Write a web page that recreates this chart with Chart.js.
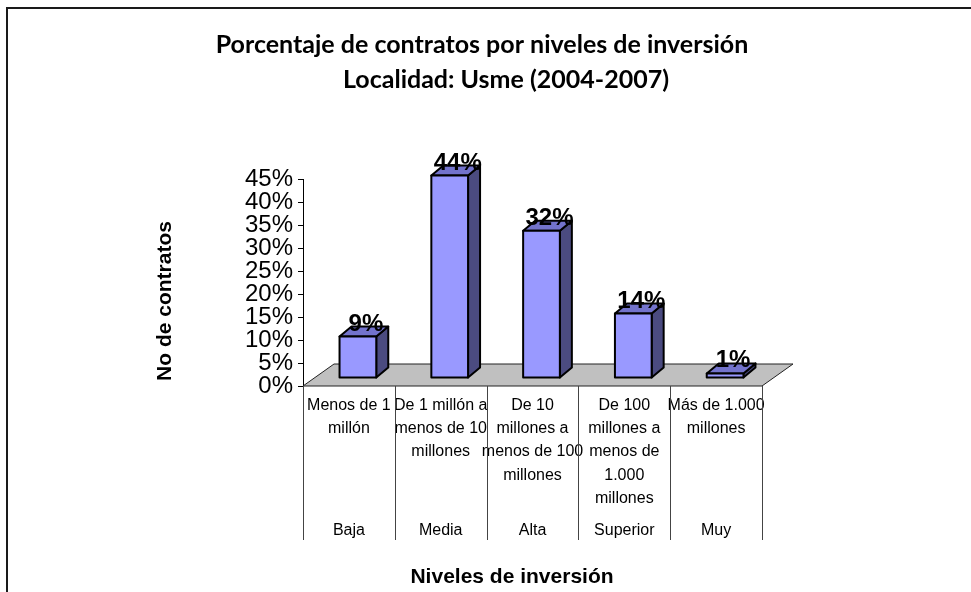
<!DOCTYPE html>
<html>
<head>
<meta charset="utf-8">
<script src="https://cdn.jsdelivr.net/npm/chart.js@4"></script>
<style>
  body { margin: 0; background: #fff; }
  #caja { width: 971px; height: 592px; }
</style>
</head>
<body>
<div id="caja"><canvas id="grafico"></canvas></div>
<script>
// datos
const descripciones = [
    ['Menos de 1', 'millón'],
    ['De 1 millón a', 'menos de 10', 'millones'],
    ['De 10', 'millones a', 'menos de 100', 'millones'],
    ['De 100', 'millones a', 'menos de', '1.000', 'millones'],
    ['Más de 1.000', 'millones']
];
const niveles = ['Baja', 'Media', 'Alta', 'Superior', 'Muy'];
const porcentajes = [9, 44, 32, 14, 1];
const ticksY = [0, 5, 10, 15, 20, 25, 30, 35, 40, 45];
const titulo = ['Porcentaje de contratos por niveles de inversión', 'Localidad: Usme (2004-2007)'];
const tituloY = 'No de contratos';
const tituloX = 'Niveles de inversión';

const ARIAL = '"Liberation Sans", Arial, sans-serif';

// profundidad del piso y de las barras (efecto 3D de excel)
const PISO_DX = 31, PISO_DY = -22;
const BARRA_SX = 9, BARRA_SY = -8;
const BARRA_DX = 12, BARRA_DY = -10;

const piso3d = {
    id: 'piso3d',
    beforeDatasetsDraw(chart) {
        const {ctx, chartArea: a} = chart;
        ctx.save();
        ctx.beginPath();
        ctx.moveTo(a.left, a.bottom);
        ctx.lineTo(a.right, a.bottom);
        ctx.lineTo(a.right + PISO_DX, a.bottom + PISO_DY);
        ctx.lineTo(a.left + PISO_DX, a.bottom + PISO_DY);
        ctx.closePath();
        ctx.fillStyle = '#c0c0c0';
        ctx.fill();
        ctx.strokeStyle = '#222';
        ctx.lineWidth = 1;
        ctx.stroke();
        ctx.restore();
    }
};

const barras3d = {
    id: 'barras3d',
    afterDatasetsDraw(chart) {
        const ctx = chart.ctx;
        const meta = chart.getDatasetMeta(0);
        ctx.save();
        ctx.lineWidth = 2;
        ctx.strokeStyle = '#000';
        ctx.lineJoin = 'round';
        meta.data.forEach((el, i) => {
            const l = el.x - el.width / 2 + BARRA_SX;
            const r = el.x + el.width / 2 + BARRA_SX;
            const t = el.y + BARRA_SY;
            const b = el.base + BARRA_SY;
            // lado
            ctx.beginPath();
            ctx.moveTo(r, b);
            ctx.lineTo(r, t);
            ctx.lineTo(r + BARRA_DX, t + BARRA_DY);
            ctx.lineTo(r + BARRA_DX, b + BARRA_DY);
            ctx.closePath();
            ctx.fillStyle = '#4b4b80';
            ctx.fill();
            ctx.stroke();
            // tapa
            ctx.beginPath();
            ctx.moveTo(l, t);
            ctx.lineTo(r, t);
            ctx.lineTo(r + BARRA_DX, t + BARRA_DY);
            ctx.lineTo(l + BARRA_DX, t + BARRA_DY);
            ctx.closePath();
            ctx.fillStyle = '#7373cc';
            ctx.fill();
            ctx.stroke();
            // frente
            ctx.fillStyle = '#9999ff';
            ctx.fillRect(l, t, r - l, b - t);
            ctx.strokeRect(l, t, r - l, b - t);
        });
        // etiquetas de valor
        ctx.fillStyle = '#000';
        ctx.font = 'bold 24px ' + ARIAL;
        ctx.textAlign = 'center';
        ctx.textBaseline = 'alphabetic';
        meta.data.forEach((el, i) => {
            ctx.fillText(porcentajes[i] + '%', el.x + BARRA_SX + BARRA_DX / 2 + 2, el.y + BARRA_SY - 6);
        });
        ctx.restore();
    }
};

const adornos = {
    id: 'adornos',
    afterDraw(chart) {
        const {ctx, chartArea: a} = chart;
        const xs = chart.scales.x, x2 = chart.scales.x2;
        ctx.save();
        // lineas de la tabla de categorias
        const n = descripciones.length;
        const w = (xs.right - xs.left) / n;
        ctx.strokeStyle = '#444';
        ctx.lineWidth = 1;
        for (let i = 0; i <= n; i++) {
            const x = Math.round(xs.left + i * w) + 0.5;
            ctx.beginPath();
            ctx.moveTo(x, a.bottom);
            ctx.lineTo(x, x2.bottom);
            ctx.stroke();
        }
        // titulos
        ctx.fillStyle = '#000';
        ctx.textAlign = 'center';
        ctx.textBaseline = 'alphabetic';
        ctx.font = 'bold 25px Lato, sans-serif';
        ctx.fillText(titulo[0], 482, 53);
        ctx.fillText(titulo[1], 506, 88);
        ctx.font = 'bold 21px ' + ARIAL;
        ctx.textBaseline = 'middle';
        ctx.fillText(tituloX, 512, 577);
        ctx.translate(165, 301);
        ctx.rotate(-Math.PI / 2);
        ctx.fillText(tituloY, 0, 0);
        ctx.setTransform(1, 0, 0, 1, 0, 0);
        // marco
        ctx.strokeStyle = '#1a1a1a';
        ctx.lineWidth = 2;
        ctx.beginPath();
        ctx.moveTo(7, 592);
        ctx.lineTo(7, 8);
        ctx.lineTo(971, 8);
        ctx.stroke();
        ctx.restore();
    }
};

new Chart(document.getElementById('grafico'), {
    type: 'bar',
    data: {
        labels: descripciones,
        datasets: [{
            data: porcentajes,
            backgroundColor: 'rgba(0,0,0,0)',
            borderWidth: 0,
            categoryPercentage: 1,
            barPercentage: 0.4
        }]
    },
    options: {
        responsive: true,
        maintainAspectRatio: false,
        animation: false,
        layout: {padding: {left: 0, right: 209, top: 179, bottom: 52}},
        plugins: {
            legend: {display: false},
            tooltip: {enabled: false},
            title: {display: false}
        },
        scales: {
            y: {
                min: 0,
                max: 45,
                afterBuildTicks: s => { s.ticks = ticksY.map(v => ({value: v})); },
                afterFit: s => { s.width = 303; },
                grid: {display: true, drawOnChartArea: false, tickLength: 5, color: '#000'},
                border: {display: true, color: '#000', width: 1},
                ticks: {
                    autoSkip: false,
                    padding: 5,
                    color: '#000',
                    font: {family: ARIAL, size: 24},
                    callback: v => v + '%'
                }
            },
            x: {
                afterFit: s => { s.height = 130; },
                grid: {display: false, drawTicks: false},
                border: {display: false},
                ticks: {
                    autoSkip: false,
                    maxRotation: 0,
                    minRotation: 0,
                    padding: 8,
                    color: '#000',
                    font: {family: ARIAL, size: 16, lineHeight: 1.45}
                }
            },
            x2: {
                type: 'category',
                labels: niveles,
                position: 'bottom',
                offset: true,
                afterFit: s => { s.height = 24; },
                grid: {display: false, drawTicks: false},
                border: {display: false},
                ticks: {
                    autoSkip: false,
                    maxRotation: 0,
                    minRotation: 0,
                    padding: 5,
                    color: '#000',
                    font: {family: ARIAL, size: 16, lineHeight: 1.2}
                }
            }
        }
    },
    plugins: [piso3d, barras3d, adornos]
});
</script>
</body>
</html>
